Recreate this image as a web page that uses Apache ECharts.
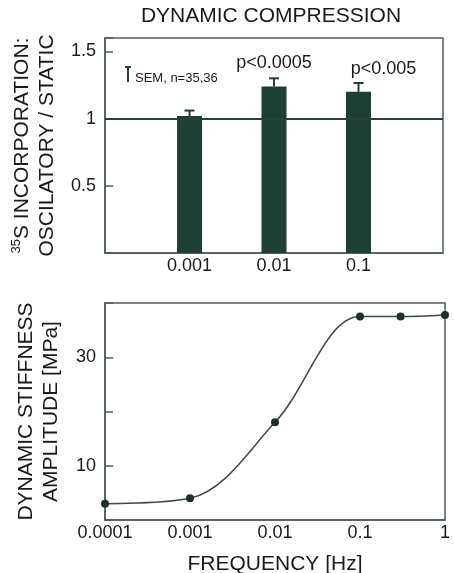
<!DOCTYPE html>
<html>
<head>
<meta charset="utf-8">
<script src="https://cdn.jsdelivr.net/npm/echarts@6/dist/echarts.min.js"></script>
<style>
  html, body { margin: 0; padding: 0; background: #fff; }
  #chart { width: 454px; height: 573px; }
</style>
</head>
<body>
<div id="chart"></div>
<script>
// top panel: 35S incorporation ratio (oscillatory / static)
const barFreq = [0.001, 0.01, 0.1];
const barRatio = [1.02, 1.24, 1.20];
const barErrTop = [1.06, 1.30, 1.265];
const pValues = ['', 'p<0.0005', 'p<0.005'];
const topXLabels = ['0.001', '0.01', '0.1'];
const topYLabels = [0.5, 1, 1.5];

// bottom panel: dynamic stiffness amplitude vs frequency
const stiffFreq = [0.0001, 0.001, 0.01, 0.1, 0.3, 1];
const stiffMPa = [3.0, 4.0, 18.0, 37.5, 37.5, 37.8];
const bottomXLabels = ['0.0001', '0.001', '0.01', '0.1', '1'];
const bottomYLabels = [10, 30];

const axisColor = '#4d5d57';
const textColor = '#1a1a1a';
const barColor = '#1d3f36';
const font = 'Liberation Sans, Arial, sans-serif';

function logLabel(list) {
  return function (v) {
    const hit = list.find(s => Math.abs(Math.log10(v) - Math.log10(parseFloat(s))) < 0.01);
    return hit || '';
  };
}

const chart = echarts.init(document.getElementById('chart'));

const option = {
  animation: false,
  textStyle: { fontFamily: font, color: textColor },
  title: {
    text: 'DYNAMIC COMPRESSION',
    left: 271,
    top: 6,
    padding: 0,
    textAlign: 'center',
    textStyle: { fontFamily: font, fontSize: 21, fontWeight: 'normal', color: textColor }
  },
  grid: [
    { left: 105, right: 11, top: 38, height: 215, show: true, borderColor: axisColor, borderWidth: 1.5, outerBoundsMode: 'none' },
    { left: 105, right: 9, top: 303, height: 217, show: true, borderColor: axisColor, borderWidth: 1.5, outerBoundsMode: 'none' }
  ],
  xAxis: [
    {
      gridIndex: 0, type: 'log', logBase: 10, min: 0.0001, max: 1,
      axisLine: { lineStyle: { color: axisColor, width: 1.5 } },
      axisTick: { show: false },
      splitLine: { show: false },
      axisLabel: { fontSize: 18, color: textColor, margin: 4, formatter: logLabel(topXLabels) }
    },
    {
      gridIndex: 1, type: 'log', logBase: 10, min: 0.0001, max: 1,
      name: 'FREQUENCY [Hz]', nameLocation: 'middle', nameGap: 34,
      nameTextStyle: { fontSize: 21, color: textColor },
      axisLine: { lineStyle: { color: axisColor, width: 1.5 } },
      axisTick: { show: false },
      splitLine: { show: false },
      axisLabel: { fontSize: 18, color: textColor, margin: 4, formatter: logLabel(bottomXLabels) }
    }
  ],
  yAxis: [
    {
      gridIndex: 0, type: 'value', min: 0, max: 1.6, interval: 0.5,
      name: '{sup|35}S INCORPORATION:\nOSCILATORY / STATIC',
      nameLocation: 'middle', nameGap: 44,
      nameTextStyle: {
        fontSize: 21, lineHeight: 25, color: textColor,
        rich: { sup: { fontSize: 13, verticalAlign: 'top', lineHeight: 25, color: textColor } }
      },
      axisLine: { lineStyle: { color: axisColor, width: 1.5 } },
      axisTick: { inside: true, length: 8, lineStyle: { color: axisColor, width: 1.5 } },
      splitLine: { show: false },
      axisLabel: {
        fontSize: 18, color: textColor, margin: 9,
        formatter: v => topYLabels.some(t => Math.abs(t - v) < 1e-6) ? String(v) : ''
      }
    },
    {
      gridIndex: 1, type: 'value', min: 0, max: 40, interval: 10,
      name: 'DYNAMIC STIFFNESS\nAMPLITUDE [MPa]',
      nameLocation: 'middle', nameGap: 41,
      nameTextStyle: { fontSize: 21, lineHeight: 25, color: textColor },
      axisLine: { lineStyle: { color: axisColor, width: 1.5 } },
      axisTick: { inside: true, length: 8, lineStyle: { color: axisColor, width: 1.5 } },
      splitLine: { show: false },
      axisLabel: {
        fontSize: 18, color: textColor, margin: 9,
        formatter: v => bottomYLabels.indexOf(v) >= 0 ? String(v) : ''
      }
    }
  ],
  graphic: [
    { type: 'line', shape: { x1: 128, y1: 67, x2: 128, y2: 82 }, style: { stroke: '#2a3a35', lineWidth: 2 } },
    { type: 'line', shape: { x1: 125, y1: 67, x2: 131, y2: 67 }, style: { stroke: '#2a3a35', lineWidth: 2 } },
    {
      type: 'text', left: 135, top: 72,
      style: { text: 'SEM, n=35,36', fontSize: 13, fontFamily: font, fill: textColor }
    }
  ],
  series: [
    {
      type: 'bar',
      xAxisIndex: 0, yAxisIndex: 0,
      barWidth: 25,
      itemStyle: { color: barColor },
      data: barFreq.map((f, i) => ({
        value: [f, barRatio[i]],
        label: { offset: i === 2 ? [25, 0] : [0, 0] }
      })),
      label: {
        show: true, position: 'top', distance: 14,
        fontSize: 18, color: textColor, fontFamily: font,
        formatter: p => pValues[p.dataIndex]
      },
      markLine: {
        silent: true,
        symbol: 'none',
        label: { show: false },
        lineStyle: { color: '#2a3f38', width: 2, type: 'solid' },
        data: [{ yAxis: 1 }]
      },
      z: 3
    },
    {
      type: 'custom',
      xAxisIndex: 0, yAxisIndex: 0,
      data: barFreq.map((f, i) => [f, barRatio[i], barErrTop[i]]),
      renderItem: function (params, api) {
        const base = api.coord([api.value(0), api.value(1)]);
        const top = api.coord([api.value(0), api.value(2)]);
        const st = { stroke: barColor, lineWidth: 2 };
        return {
          type: 'group',
          children: [
            { type: 'line', shape: { x1: base[0], y1: base[1], x2: top[0], y2: top[1] }, style: st },
            { type: 'line', shape: { x1: top[0] - 5, y1: top[1], x2: top[0] + 5, y2: top[1] }, style: st }
          ]
        };
      },
      z: 2
    },
    {
      type: 'line',
      xAxisIndex: 1, yAxisIndex: 1,
      data: stiffFreq.map((f, i) => [f, stiffMPa[i]]),
      smooth: 0.35,
      symbol: 'circle',
      symbolSize: 8,
      lineStyle: { color: '#3a4a44', width: 1.5 },
      itemStyle: { color: '#1f2f2a' }
    }
  ]
};

chart.setOption(option);
</script>
</body>
</html>
